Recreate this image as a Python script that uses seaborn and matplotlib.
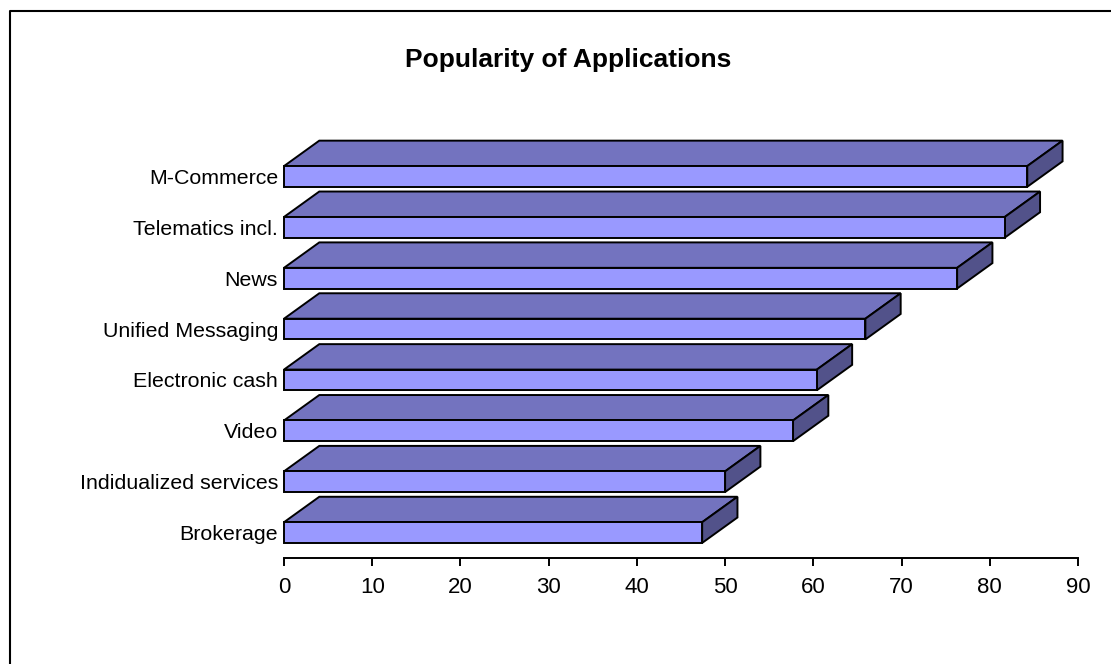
import matplotlib
matplotlib.use("Agg")
import matplotlib.pyplot as plt
from matplotlib.lines import Line2D
from matplotlib.patches import Polygon
import pandas as pd
import seaborn as sns

# -------------------------------
# Data
# -------------------------------

applications = ["M-Commerce", "Telematics incl.", "News", "Unified Messaging",
                "Electronic cash", "Video", "Indidualized services", "Brokerage"]
popularity = [84.25, 81.7, 76.3, 65.9, 60.4, 57.7, 50.0, 47.4]
x_ticks = [0, 10, 20, 30, 40, 50, 60, 70, 80, 90]

# -------------------------------
# Style
# -------------------------------

FRONT = "#9999FF"
TOP = "#7373BF"
SIDE = "#52528A"
DEPTH_X = 4.0   # extrusion of the fake 3D, in value units
DEPTH_Y = 0.5   # and in category units
EDGE = 1.4
W, H = 1111, 664

sns.set_theme(style="white")
plt.rcParams["font.family"] = ["Liberation Sans", "DejaVu Sans"]

df = pd.DataFrame({"application": applications, "popularity": popularity})

fig = plt.figure(figsize=(W / 100, H / 100), dpi=100, facecolor="white")
ax = fig.add_axes([284 / W, 1 - 558 / H, (1078 - 284) / W, (558 - 151) / H])

sns.barplot(data=df, x="popularity", y="application", orient="h", ax=ax,
            color=FRONT, saturation=1, width=0.407, edgecolor="black",
            linewidth=EDGE, zorder=3)

# -------------------------------
# Top and side faces from the bars
# -------------------------------

for bar in list(ax.patches):
    x0, y0 = bar.get_x(), bar.get_y()
    w, h = bar.get_width(), bar.get_height()
    top_y = min(y0, y0 + h)
    bottom_y = max(y0, y0 + h)
    top_face = [(x0, top_y), (x0 + DEPTH_X, top_y - DEPTH_Y),
                (x0 + w + DEPTH_X, top_y - DEPTH_Y), (x0 + w, top_y)]
    side_face = [(x0 + w, top_y), (x0 + w + DEPTH_X, top_y - DEPTH_Y),
                 (x0 + w + DEPTH_X, bottom_y - DEPTH_Y), (x0 + w, bottom_y)]
    ax.add_patch(Polygon(top_face, closed=True, facecolor=TOP, edgecolor="black",
                         linewidth=EDGE, clip_on=False, zorder=2))
    ax.add_patch(Polygon(side_face, closed=True, facecolor=SIDE, edgecolor="black",
                         linewidth=EDGE, clip_on=False, zorder=2))
    bar.set_clip_on(False)

# -------------------------------
# Axes
# -------------------------------

ax.set_xlim(0, 90)
ax.set_ylim(7.5, -0.5)
ax.set_xticks(x_ticks)
ax.set_xlabel("")
ax.set_ylabel("")
ax.patch.set_alpha(0)
for side in ["top", "right", "left"]:
    ax.spines[side].set_visible(False)
ax.spines["bottom"].set_color("black")
ax.spines["bottom"].set_linewidth(EDGE)
ax.tick_params(axis="x", bottom=True, length=5.8, width=EDGE, color="black", pad=8,
               labelsize=16, labelcolor="black")
ax.tick_params(axis="y", left=False, length=0, pad=4.3, labelsize=15.4, labelcolor="black")

fig.text(568 / W, 1 - 60 / H, "Popularity of Applications", ha="center", va="center",
         fontsize=19, fontweight="bold", color="black")

# Chart frame: only the top and left edges show
fig.add_artist(Line2D([10 / W, 10 / W, 1], [0, 1 - 11 / H, 1 - 11 / H],
                      color="black", linewidth=1.5))

fig.savefig("out.png", dpi=100)
